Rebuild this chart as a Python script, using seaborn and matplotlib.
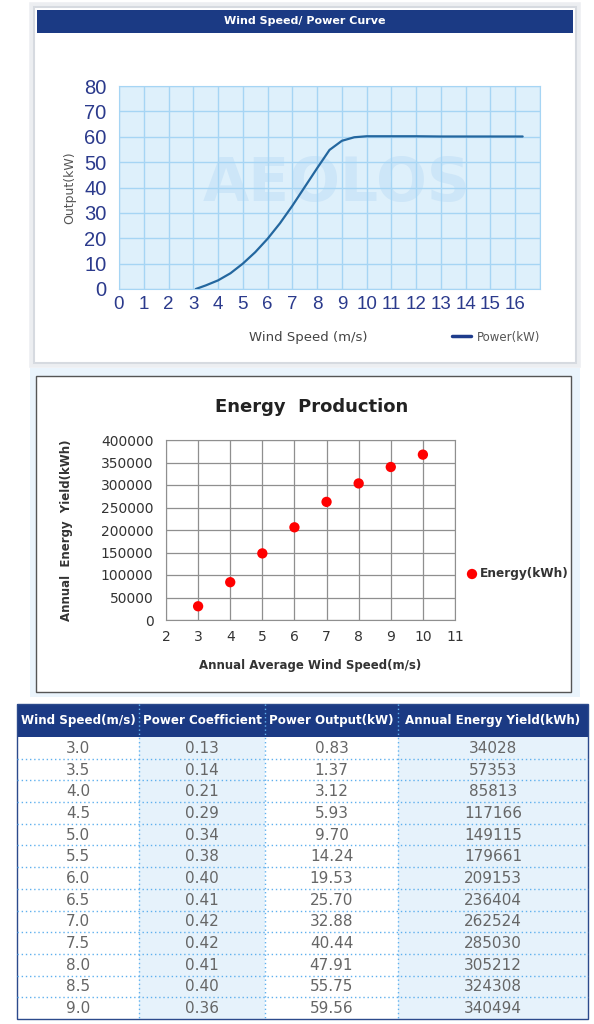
import pandas as pd
import seaborn as sns
import matplotlib.pyplot as plt
from matplotlib.patches import Rectangle
from matplotlib.lines import Line2D

# --- data ---
curve_speed = [3.1, 3.5, 4.0, 4.5, 5.0, 5.5, 6.0, 6.5, 7.0, 7.5, 8.0, 8.5, 9.0, 9.5,
               10.0, 11.0, 12.0, 13.0, 14.0, 15.0, 16.0, 16.3]
curve_power = [0.0, 1.4, 3.4, 6.2, 10.0, 14.5, 19.8, 25.9, 32.8, 40.2, 47.6, 54.8, 58.4, 59.8,
               60.2, 60.2, 60.2, 60.1, 60.1, 60.1, 60.1, 60.1]

energy_speed = [3, 4, 5, 6, 7, 8, 9, 10]
energy_yield = [30500, 84000, 148000, 206000, 262500, 303500, 340000, 367500]

tbl_header = ["Wind Speed(m/s)", "Power Coefficient", "Power Output(kW)", "Annual Energy Yield(kWh)"]
tbl_speed = [3.0, 3.5, 4.0, 4.5, 5.0, 5.5, 6.0, 6.5, 7.0, 7.5, 8.0, 8.5, 9.0]
tbl_coef = [0.13, 0.14, 0.21, 0.29, 0.34, 0.38, 0.40, 0.41, 0.42, 0.42, 0.41, 0.40, 0.36]
tbl_power = [0.83, 1.37, 3.12, 5.93, 9.70, 14.24, 19.53, 25.70, 32.88, 40.44, 47.91, 55.75, 59.56]
tbl_energy = [34028, 57353, 85813, 117166, 149115, 179661, 209153, 236404, 262524, 285030,
              305212, 324308, 340494]

sns.set_style("white")
plt.rcParams['font.family'] = ['DejaVu Sans']

NAVY = "#1b3a84"
W, H = 594, 1024
fig = plt.figure(figsize=(W / 100, H / 100), dpi=100)

# background canvas in pixel coordinates
bg = fig.add_axes([0, 0, 1, 1])
bg.set_xlim(0, W)
bg.set_ylim(H, 0)
bg.axis("off")


def box(x0, y0, x1, y1, **kw):
    bg.add_patch(Rectangle((x0, y0), x1 - x0, y1 - y0, **kw))


def px_axes(left, top, right, bottom):
    return fig.add_axes([left / W, 1 - bottom / H, (right - left) / W, (bottom - top) / H])


# top panel frame
box(32, 5, 578, 365, facecolor="none", edgecolor="#eceef1", lw=4)
box(34, 7, 576, 363, facecolor="white", edgecolor="#d6dae0", lw=1.5)
box(37, 10, 573, 33, facecolor=NAVY, edgecolor="none")
bg.text(305, 21.5, "Wind Speed/ Power Curve", color="white", fontsize=8, fontweight="bold",
        ha="center", va="center")

# middle panel frame
box(30, 368, 580, 697, facecolor="#eaf4fc", edgecolor="none")
box(36, 376, 571, 692, facecolor="white", edgecolor="#555555", lw=1)

# --- power curve ---
ax1 = px_axes(119, 86, 540, 289)
ax1.set_facecolor("#def0fb")
ax1.text(8.8, 41, "AEOLOS", color="#cde6f8", fontsize=43, fontweight="bold",
         ha="center", va="center", zorder=0.5)
df_curve = pd.DataFrame({"speed": curve_speed, "power": curve_power})
sns.lineplot(data=df_curve, x="speed", y="power", ax=ax1, color="#24679f", lw=1.6,
             sort=False, estimator=None, zorder=3)
ax1.set_xlim(0, 17)
ax1.set_ylim(0, 80)
ax1.set_xticks(range(0, 17))
ax1.set_xticks(range(0, 18), minor=True)
ax1.set_yticks(range(0, 81, 10))
ax1.grid(True, which="both", color="#a6d5f4", lw=1)
ax1.set_axisbelow(True)
for s in ax1.spines.values():
    s.set_color("#a6d5f4")
ax1.tick_params(length=0, which="both", labelcolor="#2b3a8c")
ax1.tick_params(axis="x", pad=5, labelsize=13.5)
ax1.tick_params(axis="y", pad=9, labelsize=14.5)
for lab in ax1.get_xticklabels() + ax1.get_yticklabels():
    lab.set_family("Liberation Sans")
ax1.set_xlabel("")
ax1.set_ylabel("Output(kW)", color="#555555", fontsize=9, labelpad=6)
bg.text(308, 337, "Wind Speed (m/s)", color="#444444", fontsize=9.5, ha="center", va="center")
bg.add_line(Line2D([452, 471], [336, 336], color="#1e3c8c", lw=2.5))
bg.text(477, 337, "Power(kW)", color="#555555", fontsize=8.5, ha="left", va="center")

# --- energy production ---
ax2 = px_axes(166, 440, 455, 620)
sns.scatterplot(x=energy_speed, y=energy_yield, ax=ax2, color="#ff0000", s=55,
                edgecolor="none", legend=False, zorder=3)
ax2.set_xlim(2, 11)
ax2.set_ylim(0, 400000)
ax2.set_xticks(range(2, 12))
ax2.set_yticks(range(0, 400001, 50000))
ax2.grid(True, color="#8f8f8f", lw=0.9)
ax2.set_axisbelow(True)
for s in ax2.spines.values():
    s.set_color("#8f8f8f")
ax2.tick_params(length=0, labelsize=10, labelcolor="#333333")
ax2.tick_params(axis="x", pad=7)
ax2.tick_params(axis="y", pad=9)
ax2.set_ylabel("Annual  Energy  Yield(kWh)", fontsize=8.5, fontweight="bold", color="#333333",
               labelpad=20)
ax2.set_xlabel("")
bg.text(312, 407, "Energy  Production", fontsize=13, fontweight="bold", color="#222222",
        ha="center", va="center")
bg.text(310, 665, "Annual Average Wind Speed(m/s)", fontsize=8.5, fontweight="bold",
        color="#333333", ha="center", va="center")
bg.scatter([472], [574], s=55, color="#ff0000", edgecolor="none")
bg.text(480, 574, "Energy(kWh)", fontsize=8.7, fontweight="bold", color="#333333",
        ha="left", va="center")

# --- data table ---
col_x = [17, 139, 265, 398, 588]
head_top, head_bot = 704, 737
row_h = (1019 - head_bot) / len(tbl_speed)
bottom = head_bot + row_h * len(tbl_speed)

box(col_x[1], head_bot, col_x[2], bottom, facecolor="#e6f2fb", edgecolor="none")
box(col_x[3], head_bot, col_x[4], bottom, facecolor="#e6f2fb", edgecolor="none")
box(col_x[0], head_top, col_x[4], head_bot, facecolor=NAVY, edgecolor="none")

for j, name in enumerate(tbl_header):
    cx = (col_x[j] + col_x[j + 1]) / 2
    bg.text(cx, (head_top + head_bot) / 2, name, color="white", fontsize=8.6,
            fontweight="bold", ha="center", va="center")

rows = zip(tbl_speed, tbl_coef, tbl_power, tbl_energy)
for i, (sp, cf, pw, en) in enumerate(rows):
    cy = head_bot + row_h * (i + 0.5)
    vals = [f"{sp:.1f}", f"{cf:.2f}", f"{pw:.2f}", f"{en}"]
    for j, v in enumerate(vals):
        cx = (col_x[j] + col_x[j + 1]) / 2
        bg.text(cx, cy + 0.5, v, color="#666666", fontsize=11, ha="center", va="center")
    if i > 0:
        y = head_bot + row_h * i
        bg.add_line(Line2D([col_x[0], col_x[4]], [y, y], color="#5fb0ee", lw=1,
                           linestyle=(0, (1, 2))))

for x in col_x[1:4]:
    bg.add_line(Line2D([x, x], [head_top, bottom], color="#5fb0ee", lw=1,
                       linestyle=(0, (1, 2))))
box(col_x[0], head_top, col_x[4], bottom, facecolor="none", edgecolor="#2c4a8c", lw=1)

fig.savefig("out.png", dpi=100)
